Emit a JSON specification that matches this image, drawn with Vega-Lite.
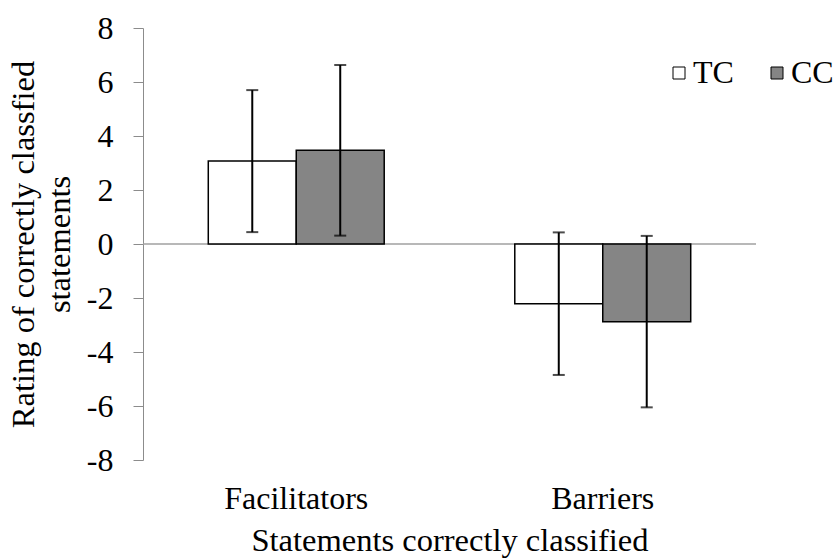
{
  "$schema": "https://vega.github.io/schema/vega-lite/v6.json",
  "autosize": {"type": "none"},
  "width": 613,
  "height": 432,
  "padding": {"left": 143, "top": 28, "right": 84, "bottom": 98},
  "background": "white",
  "config": {
    "font": "Liberation Serif",
    "view": {"stroke": null},
    "axis": {
      "labelFont": "Liberation Serif",
      "titleFont": "Liberation Serif",
      "labelColor": "black",
      "titleColor": "black",
      "titleFontWeight": "normal",
      "labelFontSize": 32,
      "titleFontSize": 32.5
    },
    "legend": {"labelFont": "Liberation Serif", "labelColor": "black"}
  },
  "data": {
    "values": [
      {"category": "Facilitators", "group": "TC", "mean": 3.07, "lo": 0.44, "hi": 5.7},
      {"category": "Facilitators", "group": "CC", "mean": 3.47, "lo": 0.31, "hi": 6.63},
      {"category": "Barriers", "group": "TC", "mean": -2.21, "lo": -4.85, "hi": 0.43},
      {"category": "Barriers", "group": "CC", "mean": -2.88, "lo": -6.05, "hi": 0.3}
    ]
  },
  "resolve": {"scale": {"y": "shared"}},
  "layer": [
    {
      "data": {"values": [{}]},
      "mark": {"type": "rule", "color": "#a0a0a0", "strokeWidth": 1.5},
      "encoding": {"y": {"datum": 0, "type": "quantitative", "scale": {"domain": [-8, 8], "nice": false}}}
    },
    {
      "mark": {"type": "bar", "stroke": "black", "strokeWidth": 1.5},
      "encoding": {
        "x": {
          "field": "category", "type": "nominal", "sort": ["Facilitators", "Barriers"],
          "scale": {"paddingInner": 0.426, "paddingOuter": 0.213},
          "axis": {
            "orient": "bottom", "labelAngle": 0, "domain": false, "ticks": false,
            "labelPadding": 23, "title": "Statements correctly classified", "titlePadding": 10
          }
        },
        "xOffset": {"field": "group", "type": "nominal", "sort": ["TC", "CC"]},
        "y": {
          "field": "mean", "type": "quantitative",
          "scale": {"domain": [-8, 8], "nice": false},
          "axis": {
            "title": ["Rating of correctly classfied", "statements"],
            "values": [-8, -6, -4, -2, 0, 2, 4, 6, 8],
            "labelExpr": "replace(datum.label, '\u2212', '-')",
            "grid": false,
            "domainColor": "#8c8c8c",
            "tickColor": "#8c8c8c",
            "tickSize": 10,
            "labelPadding": 20,
            "titleLineHeight": 36,
            "titlePadding": 10
          }
        },
        "color": {
          "field": "group", "type": "nominal",
          "scale": {"domain": ["TC", "CC"], "range": ["white", "#858585"]},
          "legend": {
            "title": null, "orient": "none", "direction": "horizontal",
            "legendX": 520, "legendY": 29,
            "symbolType": "square", "symbolSize": 144,
            "symbolStrokeColor": "black", "symbolStrokeWidth": 1,
            "labelFontSize": 32, "labelOffset": -2, "columnPadding": 27
          }
        }
      }
    },
    {
      "mark": {"type": "rule", "color": "black", "strokeWidth": 2},
      "encoding": {
        "x": {"field": "category", "type": "nominal", "sort": ["Facilitators", "Barriers"]},
        "xOffset": {"field": "group", "type": "nominal", "sort": ["TC", "CC"]},
        "y": {"field": "lo", "type": "quantitative"},
        "y2": {"field": "hi"}
      }
    },
    {
      "mark": {"type": "tick", "color": "black", "thickness": 2, "size": 12, "orient": "horizontal"},
      "encoding": {
        "x": {"field": "category", "type": "nominal", "sort": ["Facilitators", "Barriers"]},
        "xOffset": {"field": "group", "type": "nominal", "sort": ["TC", "CC"]},
        "y": {"field": "lo", "type": "quantitative"}
      }
    },
    {
      "mark": {"type": "tick", "color": "black", "thickness": 2, "size": 12, "orient": "horizontal"},
      "encoding": {
        "x": {"field": "category", "type": "nominal", "sort": ["Facilitators", "Barriers"]},
        "xOffset": {"field": "group", "type": "nominal", "sort": ["TC", "CC"]},
        "y": {"field": "hi", "type": "quantitative"}
      }
    }
  ]
}
